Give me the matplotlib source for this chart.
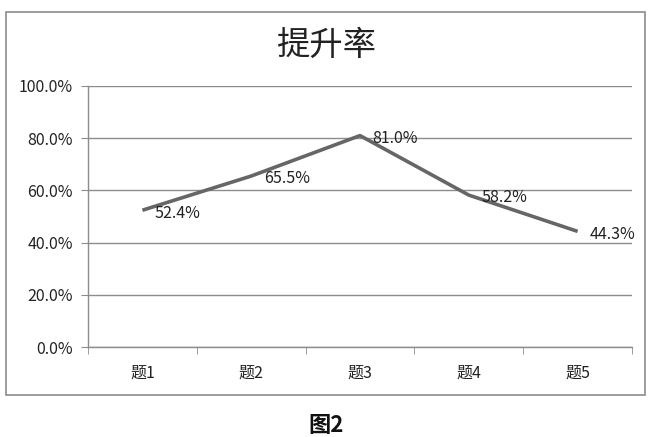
import matplotlib
matplotlib.use("Agg")
import matplotlib.pyplot as plt
from matplotlib.patches import Rectangle
from matplotlib.ticker import FuncFormatter, MultipleLocator

plt.rcParams['font.family'] = ['Noto Sans CJK SC', 'DejaVu Sans']

categories = ["题1", "题2", "题3", "题4", "题5"]
values = [52.4, 65.5, 81.0, 58.2, 44.3]
labels = ["52.4%", "65.5%", "81.0%", "58.2%", "44.3%"]
title = "提升率"
caption = "图2"

fig = plt.figure(figsize=(6.52, 4.37), dpi=100)
fig.patch.set_facecolor("white")

# outer chart border
fig.patches.append(Rectangle((6/652, 1-395/437), (645-6)/652, (395-12)/437,
                             transform=fig.transFigure, fill=False,
                             edgecolor="#8c8c8c", linewidth=1.2))

ax = fig.add_axes([88/652, 1-347/437, (632-88)/652, (347-86)/437])
x = list(range(len(categories)))
ax.plot(x, values, color="#666666", linewidth=2.6, solid_capstyle="butt")
for xi, v, lab in zip(x, values, labels):
    ax.annotate(lab, (xi, v), xytext=(9, -2), textcoords="offset points",
                ha="left", va="center", fontsize=11.5, color="#222222")

ax.set_xlim(-0.5, len(categories) - 0.5)
ax.set_ylim(0, 100)
ax.yaxis.set_major_locator(MultipleLocator(20))
ax.yaxis.set_major_formatter(FuncFormatter(lambda v, p: f"{v:.1f}%"))
ax.grid(axis="y", color="#8c8c8c", linewidth=1.0)
ax.set_axisbelow(True)
ax.set_xticks(x)
ax.set_xticklabels(categories)
ax.set_xticks([i - 0.5 for i in range(len(categories) + 1)], minor=True)
ax.tick_params(axis="x", which="major", length=0, pad=13, labelsize=11.5, labelcolor="#222222")
ax.tick_params(axis="x", which="minor", length=5, color="#8c8c8c", direction="out")
ax.tick_params(axis="y", length=5, color="#8c8c8c", labelsize=11.5, labelcolor="#222222", pad=6)
for s in ["top", "right"]:
    ax.spines[s].set_visible(False)
for s in ["left", "bottom"]:
    ax.spines[s].set_color("#8c8c8c")
    ax.spines[s].set_linewidth(1.0)

fig.text(0.5, 1-45/437, title, ha="center", va="center", fontsize=24, color="#222222")
fig.text(0.5, 1-425/437, caption, ha="center", va="center", fontsize=16, fontweight="bold", color="#111111")

fig.savefig("out.png", dpi=100)
